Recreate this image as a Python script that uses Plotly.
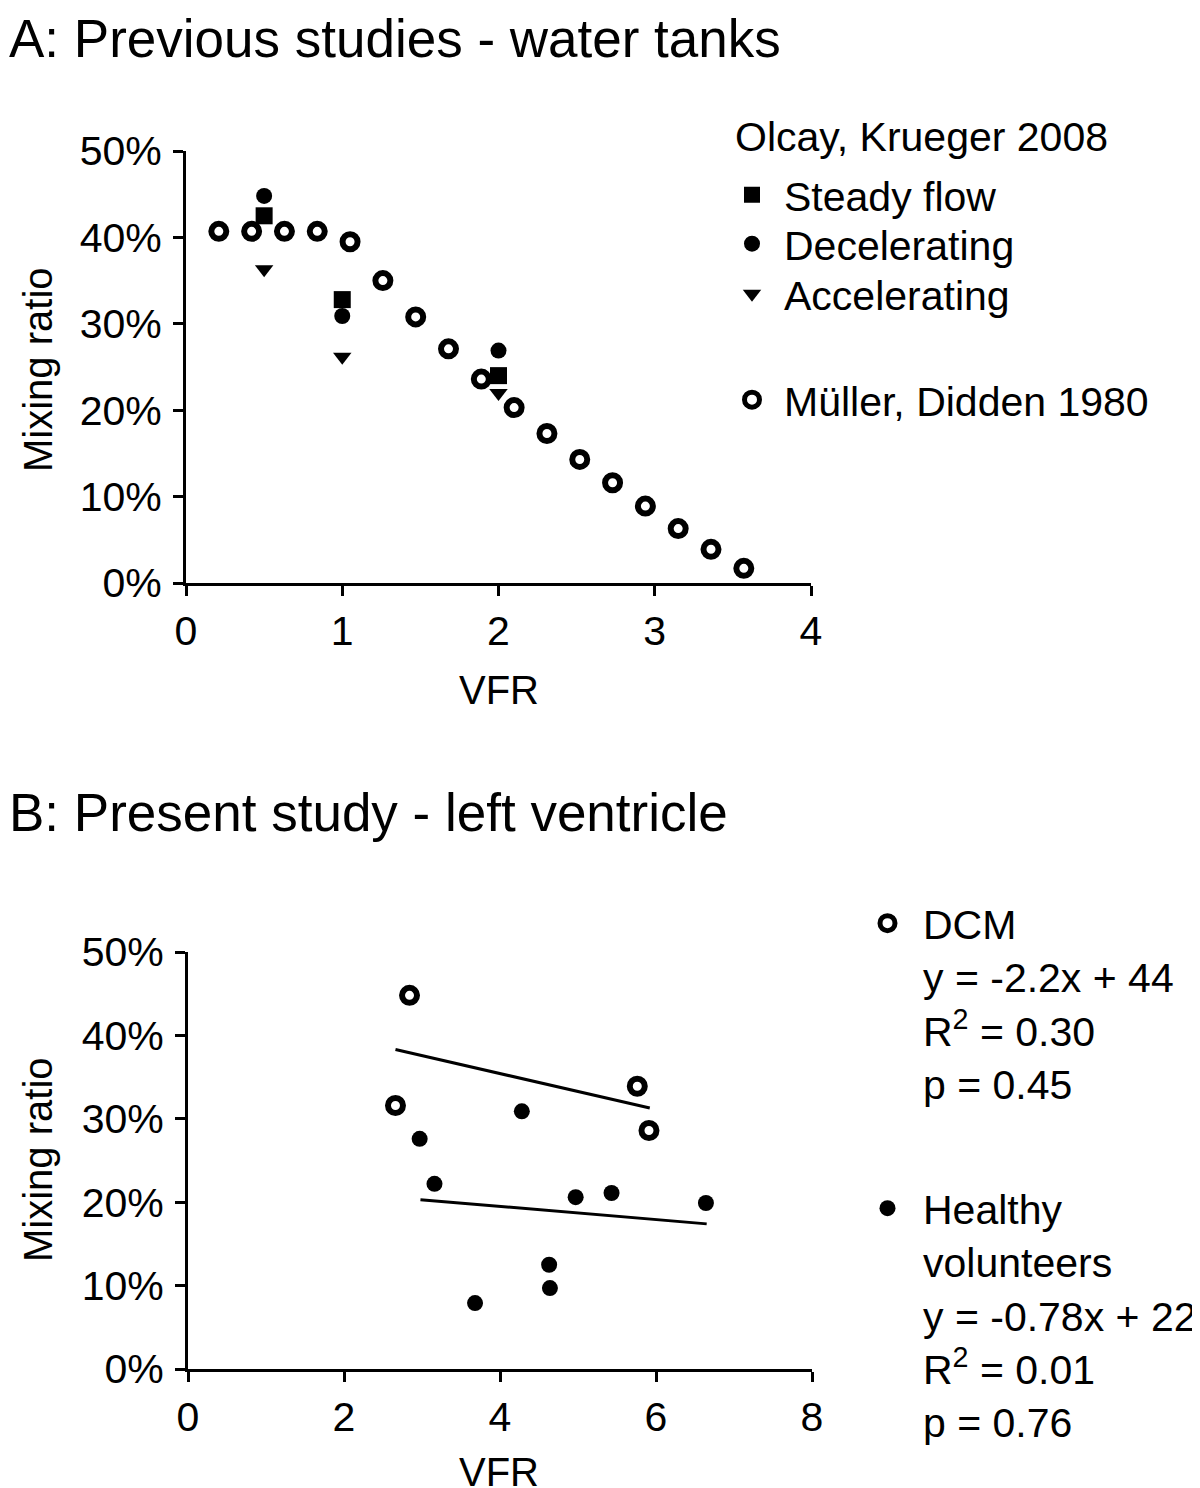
import plotly.graph_objects as go

# ---------------- data ----------------
# Panel A: Müller, Didden 1980 (open circles)
muller_vfr = [0.21, 0.42, 0.63, 0.84, 1.05, 1.26, 1.47, 1.68, 1.89, 2.10, 2.31, 2.52, 2.73, 2.94, 3.15, 3.36, 3.57]
muller_mix = [40.7, 40.7, 40.7, 40.7, 39.5, 35.0, 30.8, 27.1, 23.6, 20.3, 17.3, 14.3, 11.6, 8.9, 6.3, 3.9, 1.7]

# Panel A: Olcay, Krueger 2008
olcay_vfr = [0.5, 1.0, 2.0]
steady_mix = [42.5, 32.8, 24.0]
decel_mix = [44.8, 30.9, 26.9]
accel_mix = [36.3, 26.2, 22.0]

# Panel B: present study
dcm_vfr = [2.84, 2.66, 5.76, 5.91]
dcm_mix = [44.8, 31.6, 33.9, 28.6]
healthy_vfr = [4.28, 2.97, 3.16, 4.97, 5.43, 6.64, 4.63, 4.64, 3.68]
healthy_mix = [30.9, 27.6, 22.2, 20.6, 21.1, 19.9, 12.5, 9.7, 7.9]

# regression lines (end points)
dcm_fit_vfr = [2.66, 5.92]
dcm_fit_mix = [38.3, 31.3]
healthy_fit_vfr = [2.98, 6.65]
healthy_fit_mix = [20.3, 17.4]

y_ticks = [0, 10, 20, 30, 40, 50]
y_tick_labels = ["0%", "10%", "20%", "30%", "40%", "50%"]
xa_ticks = [0, 1, 2, 3, 4]
xb_ticks = [0, 2, 4, 6, 8]

# ---------------- figure ----------------
W, H = 1200, 1488
OFF = 8  # page body margin
FONT = "Liberation Sans, Arial, Helvetica, sans-serif"
BLACK = "black"

def px(x):
    return (x - OFF) / W

def py(y):
    return 1 - (y - OFF) / H

fig = go.Figure()

open_marker = dict(symbol="circle", size=15, color="white", line=dict(color=BLACK, width=6))

# Panel A traces
fig.add_trace(go.Scatter(x=olcay_vfr, y=steady_mix, mode="markers", name="Steady flow",
                         marker=dict(symbol="square", size=17, color=BLACK, line=dict(width=0)),
                         xaxis="x", yaxis="y", legend="legend", cliponaxis=False))
fig.add_trace(go.Scatter(x=olcay_vfr, y=decel_mix, mode="markers", name="Decelerating",
                         marker=dict(symbol="circle", size=16, color=BLACK, line=dict(width=0)),
                         xaxis="x", yaxis="y", legend="legend2", cliponaxis=False))
fig.add_trace(go.Scatter(x=olcay_vfr, y=accel_mix, mode="markers", name="Accelerating",
                         marker=dict(symbol="triangle-down", size=16, color=BLACK, line=dict(width=0)),
                         xaxis="x", yaxis="y", legend="legend3", cliponaxis=False))
fig.add_trace(go.Scatter(x=muller_vfr, y=muller_mix, mode="markers", name="Müller, Didden 1980",
                         marker=open_marker, xaxis="x", yaxis="y", legend="legend4", cliponaxis=False))

# Panel B traces
fig.add_trace(go.Scatter(x=dcm_fit_vfr, y=dcm_fit_mix, mode="lines", showlegend=False,
                         line=dict(color=BLACK, width=3), xaxis="x2", yaxis="y2"))
fig.add_trace(go.Scatter(x=healthy_fit_vfr, y=healthy_fit_mix, mode="lines", showlegend=False,
                         line=dict(color=BLACK, width=3), xaxis="x2", yaxis="y2"))
fig.add_trace(go.Scatter(x=dcm_vfr, y=dcm_mix, mode="markers",
                         name="DCM<br>y = -2.2x + 44<br>R<sup>2</sup> = 0.30<br>p = 0.45",
                         marker=open_marker, xaxis="x2", yaxis="y2", legend="legend5", cliponaxis=False))
fig.add_trace(go.Scatter(x=healthy_vfr, y=healthy_mix, mode="markers",
                         name="Healthy<br>volunteers<br>y = -0.78x + 22<br>R<sup>2</sup> = 0.01<br>p = 0.76",
                         marker=dict(symbol="circle", size=16, color=BLACK, line=dict(width=0)),
                         xaxis="x2", yaxis="y2", legend="legend6", cliponaxis=False))

axis_common = dict(showline=True, linewidth=3, linecolor=BLACK, ticks="outside", ticklen=10,
                   tickwidth=3, tickcolor=BLACK, showgrid=False, zeroline=False, automargin=False,
                   tickfont=dict(family=FONT, size=41, color=BLACK), fixedrange=True)

fig.update_layout(
    width=W, height=H,
    margin=dict(l=0, r=0, t=0, b=0, autoexpand=False),
    paper_bgcolor="white", plot_bgcolor="white",
    font=dict(family=FONT, size=40, color=BLACK),
    xaxis=dict(domain=[px(186), px(811)], range=[0, 4], tickvals=xa_ticks, anchor="y", **axis_common),
    yaxis=dict(domain=[py(583), py(151)], range=[0, 50], tickvals=y_ticks, ticktext=y_tick_labels,
               anchor="x", ticklabelstandoff=3, **axis_common),
    xaxis2=dict(domain=[px(188), px(812)], range=[0, 8], tickvals=xb_ticks, anchor="y2", **axis_common),
    yaxis2=dict(domain=[py(1369), py(952)], range=[0, 50], tickvals=y_ticks, ticktext=y_tick_labels,
                anchor="x2", ticklabelstandoff=3, **axis_common),
)

leg_font = dict(family=FONT, size=41, color=BLACK)
leg_base = dict(bgcolor="rgba(0,0,0,0)", borderwidth=0, font=leg_font, xanchor="left",
                itemclick=False, itemdoubleclick=False)

fig.update_layout(
    legend=dict(x=px(720), y=py(195), yanchor="middle", itemwidth=54, **leg_base),
    legend2=dict(x=px(720), y=py(244), yanchor="middle", itemwidth=54, **leg_base),
    legend3=dict(x=px(720), y=py(294), yanchor="middle", itemwidth=54, **leg_base),
    legend4=dict(x=px(720), y=py(400), yanchor="middle", itemwidth=54, **leg_base),
    legend5=dict(x=px(852), y=py(890), yanchor="top", valign="top", itemwidth=61, **leg_base),
    legend6=dict(x=px(852), y=py(1175), yanchor="top", valign="top", itemwidth=61, **leg_base),
)

# Legend group heading
fig.add_annotation(text="Olcay, Krueger 2008", xref="paper", yref="paper",
                   x=px(733), y=py(137), xanchor="left", yanchor="middle", showarrow=False,
                   font=leg_font)

# Panel titles
fig.add_annotation(text="A: Previous studies - water tanks", xref="paper", yref="paper",
                   x=px(8), y=py(8), xanchor="left", yanchor="top", showarrow=False,
                   borderpad=0, font=dict(family=FONT, size=53, color=BLACK))
fig.add_annotation(text="B: Present study - left ventricle", xref="paper", yref="paper",
                   x=px(8), y=py(812), xanchor="left", yanchor="middle", showarrow=False,
                   borderpad=0, font=dict(family=FONT, size=53, color=BLACK))

# Axis titles
for yc in (370, 1160):
    fig.add_annotation(text="Mixing ratio", xref="paper", yref="paper", x=px(38), y=py(yc),
                       xanchor="center", yanchor="middle", textangle=-90, showarrow=False,
                       font=dict(family=FONT, size=40, color=BLACK))
for yc in (690, 1472):
    fig.add_annotation(text="VFR", xref="paper", yref="paper", x=px(499), y=py(yc),
                       xanchor="center", yanchor="middle", showarrow=False,
                       font=dict(family=FONT, size=40, color=BLACK))

fig.write_html("out.html")
